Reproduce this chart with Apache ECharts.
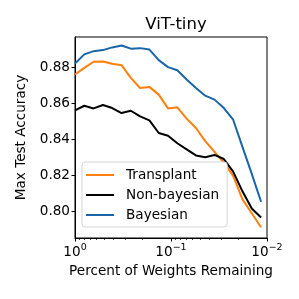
<!DOCTYPE html>
<html>
<head>
<meta charset="utf-8">
<script src="https://cdn.jsdelivr.net/npm/echarts@6/dist/echarts.min.js"></script>
<style>html,body{margin:0;padding:0;background:#fff}#c{width:299px;height:299px}</style>
</head>
<body>
<div id="c"></div>
<script>
const weightsRemaining = [1, 0.8, 0.64, 0.512, 0.4096, 0.32768, 0.262144, 0.209715, 0.167772, 0.134218, 0.107374, 0.085899, 0.068719, 0.054976, 0.04398, 0.035184, 0.028147, 0.022518, 0.018014, 0.014412, 0.011529];
const transplant = [0.8761, 0.8798, 0.8832, 0.8834, 0.8821, 0.8813, 0.8742, 0.8686, 0.8692, 0.8649, 0.8572, 0.8578, 0.8515, 0.8463, 0.8390, 0.8330, 0.8270, 0.8196, 0.8065, 0.7988, 0.7910];
const nonBayesian = [0.8561, 0.8587, 0.8572, 0.8591, 0.8574, 0.8546, 0.8559, 0.8528, 0.8505, 0.8435, 0.8420, 0.8378, 0.8344, 0.8310, 0.8300, 0.8313, 0.8290, 0.8220, 0.8110, 0.8014, 0.7964];
const bayesian = [0.8822, 0.8873, 0.8891, 0.8897, 0.8912, 0.8923, 0.8905, 0.8908, 0.8900, 0.8841, 0.8802, 0.8785, 0.8733, 0.8686, 0.8643, 0.8621, 0.8574, 0.8509, 0.8358, 0.8207, 0.8052];
const yTicks = [0.80, 0.82, 0.84, 0.86, 0.88];
const xMinorTicks = [0.02,0.03,0.04,0.05,0.06,0.07,0.08,0.09,0.2,0.3,0.4,0.5,0.6,0.7,0.8,0.9];
const seriesNames = ['Transplant', 'Non-bayesian', 'Bayesian'];
const seriesColors = ['#ff7f0e', '#000000', '#1a65aa'];

const FONT = 'DejaVu Sans';
const zip = ys => weightsRemaining.map((x, i) => [x, ys[i]]);
const chart = echarts.init(document.getElementById('c'), null, {renderer: 'canvas'});
const supMap = {'0': '0', '-1': '\u22121', '-2': '\u22122'};
const LINE_ICON = 'path://M0,0H28V2H0Z';
chart.setOption({
  animation: false,
  backgroundColor: '#fff',
  title: {
    text: 'ViT-tiny', left: 171, top: 11, textAlign: 'center',
    textStyle: {fontFamily: FONT, fontSize: 16.5, fontWeight: 'normal', color: '#000'}
  },
  grid: {left: 75, right: 32, top: 37, bottom: 61, show: true, borderColor: '#000', borderWidth: 1, backgroundColor: 'transparent'},
  legend: {
    orient: 'vertical', left: 82, top: 162,
    data: seriesNames.map(n => ({name: n, icon: LINE_ICON})),
    symbolKeepAspect: true,
    itemWidth: 28, itemHeight: 14, itemGap: 6,
    padding: [6, 8, 5, 4],
    backgroundColor: '#fff', borderColor: '#d5d5d5', borderWidth: 1, borderRadius: 3,
    textStyle: {fontFamily: FONT, fontSize: 13.6, color: '#000', padding: [0, 0, 0, 7]}
  },
  xAxis: [{
    type: 'log', logBase: 10, min: 0.01, max: 1, inverse: true,
    name: 'Percent of Weights Remaining', nameLocation: 'middle', nameGap: 25,
    nameTextStyle: {fontFamily: FONT, fontSize: 13.6, color: '#000'},
    axisLine: {lineStyle: {color: '#000', width: 1}},
    axisTick: {show: true, length: 3.5, lineStyle: {color: '#000', width: 1}},
    splitLine: {show: false},
    axisLabel: {
      margin: 5, color: '#000',
      formatter: v => {
        const e = Math.round(Math.log10(v));
        return '{b|10}{s|' + (supMap[String(e)] || String(e)) + '}';
      },
      rich: {
        b: {fontFamily: FONT, fontSize: 13.6, color: '#000'},
        s: {fontFamily: FONT, fontSize: 9.5, color: '#000', padding: [0, 0, 9, 0]}
      }
    }
  }, {
    type: 'log', logBase: 10, min: 0.01, max: 1, inverse: true, position: 'bottom',
    axisLine: {show: false},
    axisTick: {show: true, length: 2, customValues: xMinorTicks, lineStyle: {color: '#000', width: 0.7}},
    axisLabel: {show: false},
    splitLine: {show: false}
  }],
  yAxis: {
    type: 'value', min: 0.785, max: 0.897,
    name: 'Max Test Accuracy', nameLocation: 'middle', nameGap: 46,
    nameTextStyle: {fontFamily: FONT, fontSize: 13.6, color: '#000'},
    axisLine: {show: true, lineStyle: {color: '#000', width: 1}},
    axisTick: {show: true, length: 3.5, customValues: yTicks, lineStyle: {color: '#000', width: 1}},
    splitLine: {show: false},
    axisLabel: {
      customValues: yTicks, margin: 5, color: '#000',
      fontFamily: FONT, fontSize: 13.6,
      formatter: v => v.toFixed(2)
    }
  },
  series: [transplant, nonBayesian, bayesian].map((ys, i) => ({
    name: seriesNames[i], type: 'line', data: zip(ys), xAxisIndex: 0,
    symbol: 'none', showSymbol: false,
    lineStyle: {color: seriesColors[i], width: 2},
    itemStyle: {color: seriesColors[i]}
  }))
});
</script>
</body>
</html>
